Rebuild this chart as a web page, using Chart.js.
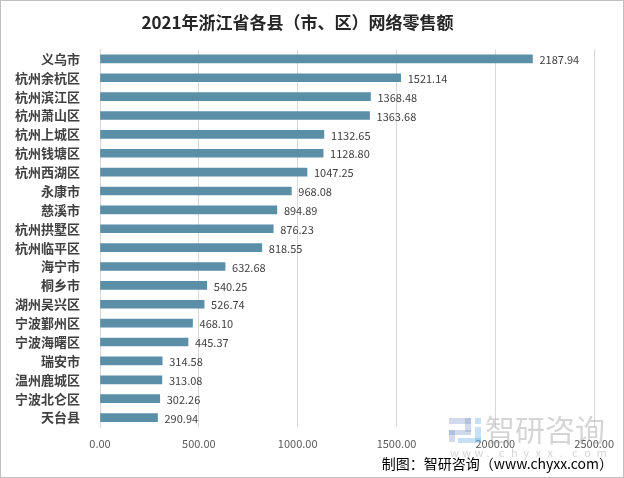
<!DOCTYPE html>
<html>
<head>
<meta charset="utf-8">
<script src="https://cdn.jsdelivr.net/npm/chart.js@4"></script>
<style>
  html, body { margin: 0; padding: 0; background: #fff; }
  #wrap { width: 624px; height: 478px; position: relative; }
</style>
</head>
<body>
<div id="wrap"><canvas id="myChart"></canvas></div>
<script>
const categories = [
  "义乌市", "杭州余杭区", "杭州滨江区", "杭州萧山区", "杭州上城区",
  "杭州钱塘区", "杭州西湖区", "永康市", "慈溪市", "杭州拱墅区",
  "杭州临平区", "海宁市", "桐乡市", "湖州吴兴区", "宁波鄞州区",
  "宁波海曙区", "瑞安市", "温州鹿城区", "宁波北仑区", "天台县"
]
const salesValues = [
  2187.94, 1521.14, 1368.48, 1363.68, 1132.65,
  1128.80, 1047.25, 968.08, 894.89, 876.23,
  818.55, 632.68, 540.25, 526.74, 468.10,
  445.37, 314.58, 313.08, 302.26, 290.94
]
const xTicks = [0, 500, 1000, 1500, 2000, 2500]

const cjk = "'Noto Sans CJK SC', 'Noto Sans', sans-serif"

// value labels at the bar ends
const barLabels = {
  id: "barLabels",
  afterDatasetsDraw(chart) {
    const ctx = chart.ctx
    const meta = chart.getDatasetMeta(0)
    ctx.save()
    ctx.font = "11px " + cjk
    ctx.fillStyle = "#404040"
    ctx.textAlign = "left"
    ctx.textBaseline = "middle"
    meta.data.forEach((bar, i) => {
      ctx.fillText(salesValues[i].toFixed(2), bar.x + 7, bar.y + 1)
    })
    ctx.restore()
  }
}

// watermark, footer and frame
const extras = {
  id: "extras",
  beforeDraw(chart) {
    const ctx = chart.ctx
    ctx.save()
    ctx.fillStyle = "#fff"
    ctx.fillRect(0, 0, chart.width, chart.height)
    ctx.restore()
  },
  afterDraw(chart) {
    const ctx = chart.ctx
    ctx.save()
    // logo blocks
    ctx.fillStyle = "rgba(120,150,200,0.35)"
    ctx.fillRect(449, 418, 22, 6)
    ctx.fillRect(465, 418, 6, 14)
    ctx.fillRect(449, 430, 22, 5)
    ctx.fillRect(449, 430, 6, 12)
    ctx.fillStyle = "rgba(90,170,220,0.35)"
    ctx.fillRect(475, 418, 6, 6)
    ctx.fillRect(475, 427, 6, 15)
    ctx.fillRect(458, 438, 23, 5)
    // watermark text
    ctx.fillStyle = "rgba(150,150,150,0.4)"
    ctx.font = "30px " + cjk
    ctx.textBaseline = "middle"
    ctx.textAlign = "left"
    ctx.fillText("智研咨询", 485, 430)
    ctx.font = "11px " + cjk
    const w = "www.chyxx.com"
    for (let i = 0; i < w.length; i++) {
      ctx.fillText(w[i], 450 + i * 12.2, 453)
    }
    // footer
    ctx.fillStyle = "#000"
    ctx.font = "14px " + cjk
    ctx.textAlign = "right"
    ctx.fillText("制图：智研咨询（www.chyxx.com）", 613, 464)
    // frame
    ctx.strokeStyle = "#bfbfbf"
    ctx.lineWidth = 1
    ctx.strokeRect(0.5, 0.5, chart.width - 1, chart.height - 1)
    ctx.restore()
  }
}

const ctx = document.getElementById("myChart").getContext("2d")
const myChart = new Chart(ctx, {
  type: "bar",
  data: {
    labels: categories,
    datasets: [
      {
        data: salesValues,
        backgroundColor: "#5b8fa8",
        barThickness: 8,
      },
    ],
  },
  options: {
    indexAxis: "y",
    responsive: true,
    maintainAspectRatio: false,
    animation: false,
    layout: {
      padding: { left: 0, right: 29, top: 0, bottom: 29 },
    },
    plugins: {
      legend: { display: false },
      tooltip: { enabled: false },
      title: {
        display: true,
        text: "2021年浙江省各县（市、区）网络零售额",
        color: "#262626",
        font: { family: cjk, size: 17, weight: "bold", lineHeight: 1.2 },
        padding: { top: 12, bottom: 17 },
      },
    },
    scales: {
      x: {
        min: 0,
        max: 2500,
        afterBuildTicks(scale) {
          scale.ticks = xTicks.map((v) => ({ value: v }))
        },
        afterFit(scale) {
          scale.height = 22
        },
        grid: { color: "#d9d9d9", drawTicks: false },
        border: { display: false },
        ticks: {
          padding: 10,
          color: "#595959",
          font: { family: cjk, size: 11 },
          callback: (v) => Number(v).toFixed(2),
        },
      },
      y: {
        afterFit(scale) {
          scale.width = 100
        },
        grid: { display: false },
        border: { display: true, color: "#d9d9d9" },
        ticks: {
          padding: 12,
          color: "#404040",
          font: { family: cjk, size: 13, weight: "bold" },
        },
      },
    },
  },
  plugins: [barLabels, extras],
})
</script>
</body>
</html>
